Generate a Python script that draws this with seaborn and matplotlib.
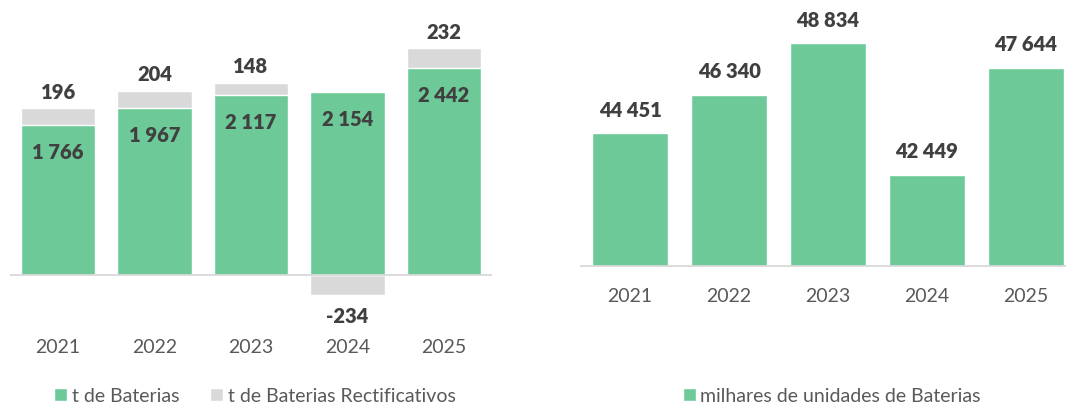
import matplotlib
matplotlib.use("Agg")
import matplotlib.pyplot as plt
from matplotlib.patches import Patch
import seaborn as sns

# data
anos = ["2021", "2022", "2023", "2024", "2025"]
t_baterias = [1766, 1967, 2117, 2154, 2442]
t_rectificativos = [196, 204, 148, -234, 232]
milhares_unidades = [44451, 46340, 48834, 42449, 47644]

GREEN = "#6dca98"
GRAY = "#d9d9d9"
LABEL = "#404040"
TICK = "#595959"

sns.set_style("white")
plt.rcParams["font.family"] = ["Lato", "DejaVu Sans"]

W, H = 1066, 406
fig = plt.figure(figsize=(W / 100, H / 100), dpi=100)


def box(x0, y0, x1, y1):
    return [x0 / W, (H - y1) / H, (x1 - x0) / W, (y1 - y0) / H]


def fmt(v):
    return f"{v:,}".replace(",", " ")


# left chart: stacked t de Baterias + rectificativos
ax1 = fig.add_axes(box(10, 0, 492, 322.7))
gray_top = [g + r if r > 0 else r for g, r in zip(t_baterias, t_rectificativos)]
sns.barplot(x=anos, y=gray_top, color=GRAY, saturation=1, width=0.77, ax=ax1)
sns.barplot(x=anos, y=t_baterias, color=GREEN, saturation=1, width=0.77, ax=ax1)
ax1.set_xlim(-0.5, 4.5)
ax1.set_ylim(-550, 3250)
ax1.axhline(0, color=GRAY, lw=1.3)

lab_kw = dict(textcoords="offset points", ha="center", va="center",
              fontsize=14.5, fontweight="heavy", color=LABEL)
for i, (g, r) in enumerate(zip(t_baterias, t_rectificativos)):
    ax1.annotate(fmt(g), xy=(i, g), xytext=(0, -19), **lab_kw)
    if r > 0:
        ax1.annotate(fmt(r), xy=(i, g + r), xytext=(0, 12), **lab_kw)
    else:
        ax1.annotate(f"-{fmt(-r)}", xy=(i, r), xytext=(0, -14.5), **lab_kw)

# right chart: milhares de unidades
ax2 = fig.add_axes(box(580.6, 0, 1075.4, 267))
sns.barplot(x=anos, y=milhares_unidades, color=GREEN, saturation=1, width=0.77, ax=ax2)
ax2.set_xlim(-0.5, 4.5)
ax2.set_ylim(38000, 38000 + 267 / 0.02055)
for i, v in enumerate(milhares_unidades):
    ax2.annotate(fmt(v), xy=(i, v), xytext=(0, 17.3), **lab_kw)

for ax, pad in ((ax1, 11.5), (ax2, 15)):
    for s in ax.spines.values():
        s.set_visible(False)
    ax.set_yticks([])
    ax.set_xlabel("")
    ax.set_ylabel("")
    ax.tick_params(axis="x", length=0, pad=pad, labelsize=14, labelcolor=TICK)
    ax.set_facecolor("none")
ax2.spines["bottom"].set_visible(True)
ax2.spines["bottom"].set_color(GRAY)
ax2.spines["bottom"].set_linewidth(1.3)

leg_kw = dict(loc="center", frameon=False, handlelength=0.65, handleheight=0.65,
              handletextpad=0.25, columnspacing=1.6, fontsize=14, labelcolor=TICK,
              borderaxespad=0, borderpad=0)
fig.legend(handles=[Patch(facecolor=GREEN, label="t de Baterias"),
                    Patch(facecolor=GRAY, label="t de Baterias Rectificativos")],
           ncol=2, bbox_to_anchor=(255 / W, (H - 397) / H), **leg_kw)
fig.legend(handles=[Patch(facecolor=GREEN, label="milhares de unidades de Baterias")],
           bbox_to_anchor=(832 / W, (H - 397) / H), **leg_kw)

fig.savefig("out.png", dpi=100)
